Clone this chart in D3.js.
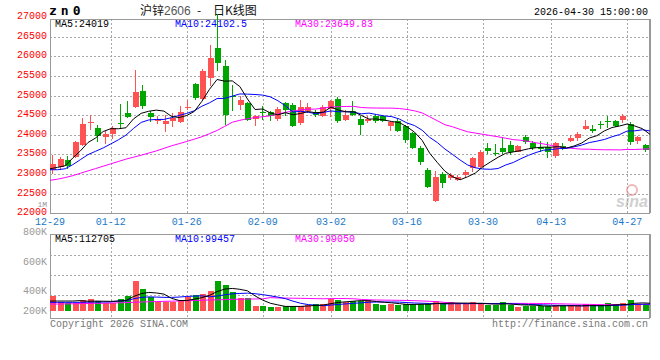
<!DOCTYPE html>
<html><head><meta charset="utf-8">
<script src="https://cdn.jsdelivr.net/npm/d3@7"></script>
<style>body{margin:0;background:#fff}svg{display:block}</style>
</head><body><svg id="c" width="660" height="360"></svg>
<script>
// ---------------- data ----------------
const dates = ["12-29","12-30","12-31","01-05","01-06","01-07","01-08","01-09",
 "01-12","01-13","01-14","01-15","01-16","01-19","01-20","01-21","01-22","01-23",
 "01-26","01-27","01-28","01-29","01-30","02-02","02-03","02-04","02-05","02-06",
 "02-09","02-10","02-11","02-12","02-13","02-24","02-25","02-26","02-27",
 "03-02","03-03","03-04","03-05","03-06","03-09","03-10","03-11","03-12","03-13",
 "03-16","03-17","03-18","03-19","03-20","03-23","03-24","03-25","03-26","03-27",
 "03-30","03-31","04-01","04-02","04-03","04-07","04-08","04-09","04-10",
 "04-13","04-14","04-15","04-16","04-17","04-20","04-21","04-22","04-23","04-24",
 "04-27","04-28","04-29","04-30"];
const xTickLabels = ["12-29","01-12","01-26","02-09","03-02","03-16","03-30","04-13","04-27"];
const opens = [23110,23180,23350,23426,23751,24290,24178,23939,24033,24290,
 24550,24720,25125,24560,24345,24280,24340,24335,24690,25290,
 24910,25450,26200,25743,24990,24750,24800,24400,24570,24570,
 24400,24800,24760,24290,24600,24590,24490,24650,24910,24370,
 24599,24411,24359,24470,24470,24214,24360,24214,24043,23676,
 23103,22308,22992,22906,22847,22975,23146,23188,23660,23530,
 23658,23744,23573,23932,23787,23701,23701,23462,23727,23847,
 23915,24154,24154,24280,24350,24359,24385,24274,23846,23744];
const highs = [23480,23430,23450,23850,24435,24510,24238,24100,24215,24790,
 24850,25660,25260,24600,24490,24510,24560,24735,24880,25330,
 25670,26290,27080,25914,25260,25000,24830,24510,24735,24600,
 24700,24830,24810,24890,24800,24620,24760,24900,24970,24640,
 24872,24470,24470,24530,24500,24360,24410,24257,24080,23727,
 23163,23077,23043,23017,22975,23103,23445,23616,23787,23760,
 23915,23830,23740,24000,23846,23846,23829,23829,23787,24000,
 24069,24385,24240,24360,24470,24380,24530,24325,23960,23760];
const lows = [23000,23110,23130,23400,23720,24130,23820,23770,23900,24140,
 24420,24690,24660,24320,24280,24060,24200,24290,24620,24880,
 24890,25240,25630,24247,24600,24640,24360,24220,24390,24340,
 24340,24490,24200,24260,24550,24460,24460,24460,24300,24340,
 24470,23999,24300,24300,24330,24086,24080,23787,23640,23231,
 22650,22300,22633,22846,22820,22889,23043,23150,23520,23470,
 23520,23488,23560,23761,23616,23556,23419,23419,23616,23829,
 23847,24129,24043,24150,24171,24200,24300,23744,23760,23560];
const closes = [23264,23390,23200,23820,24280,24330,23965,24025,24180,24270,
 24460,25100,24725,24450,24410,24340,24420,24580,24710,24930,
 25630,25950,25830,24495,24970,24900,24370,24490,24560,24480,
 24650,24640,24230,24720,24720,24500,24720,24870,24345,24495,
 24513,24240,24411,24359,24360,24325,24103,23872,23676,23317,
 22676,22932,22761,22975,22932,23060,23402,23556,23600,23520,
 23573,23573,23727,23829,23658,23641,23573,23787,23658,23915,
 24017,24214,24086,24270,24340,24214,24470,23829,23932,23616];
// moving-average values before enough candles are on screen
const ma5Head = [23135,23170,23213,23410];
const ma10Head = [23110,23110,23135,23240,23367,23495,23580,23666,23768];
const ma30Head = [22840,22870,22910,22960,23020,23080,23140,23200,23260,23320,
 23380,23430,23480,23535,23590,23655,23720,23775,23830,23890,
 23950,24030,24110,24215,24320,24370,24410,24440,24460];
const volumes = [220,135,120,120,160,175,145,110,110,175,
 220,450,325,200,135,135,135,160,200,235,
 250,300,450,385,285,185,185,70,70,50,
 60,70,70,70,85,100,100,175,160,135,
 145,145,160,100,85,100,85,100,100,100,
 100,145,100,125,100,100,125,100,85,85,
 125,85,60,70,70,70,70,85,70,70,
 70,100,70,70,110,100,115,160,100,85].map(v => v * 1000);
const volMa5Head = [145000,145000,145000,145000];
const volMa10Head = [125000,125000,125000,125000,125000,128000,130000,130000,132000];
const volMa30Head = [100,100,102,104,106,108,110,112,115,118,122,126,130,134,137,
 140,143,146,150,153,156,160,163,166,170,172,174,176,178].map(v => v * 1000);
const priceTicks = [22000,22500,23000,23500,24000,24500,25000,25500,26000,26500,27000];
const volTickValues = [200000,400000,600000,800000];
const volTickLabels = ["200K","400K","600K","800K"];
const priceLegend = ["MA5:24019","MA10:24102.5","MA30:23649.83"];
const volLegend = ["MA5:112705","MA10:99457","MA30:99050"];

// ---------------- drawing ----------------
const RED = "#ff5252", GREEN = "#00a600";
const MA_COLORS = ["#000000", "#0000ff", "#ff00ff"];
const MONO = "'Liberation Mono','DejaVu Sans Mono',monospace";
const svg = d3.select("#c");
const L = 50, R = 650;
const idx = d3.range(dates.length);
const band = d3.scaleBand().domain(idx).range([L, R]);
const gx = d3.scalePoint().domain(idx).range([L, R]);
const y = d3.scaleLinear().domain([22000, 27000]).range([213.3, 17.1]);
const volY = d3.scaleLinear().domain([0, 1140000]).range([310.7, 234.7]);
const volLabelY = d3.scaleLinear().domain(volTickValues).range([310, 290.7, 261.7, 231]);

function movingAvg(vals, n, head) {
  return vals.map((v, i) => i < n - 1 ? head[i] : d3.mean(vals.slice(i - n + 1, i + 1)));
}
const ma5 = movingAvg(closes, 5, ma5Head);
const ma10 = movingAvg(closes, 10, ma10Head);
const ma30 = movingAvg(closes, 30, ma30Head);
const vma5 = movingAvg(volumes, 5, volMa5Head);
const vma10 = movingAvg(volumes, 10, volMa10Head);
const vma30 = movingAvg(volumes, 30, volMa30Head);

const tickIdx = xTickLabels.map(l => dates.indexOf(l));
const grid = svg.append("g").attr("stroke", "#a8a8a8").attr("stroke-dasharray", "2,2").attr("shape-rendering", "crispEdges");
priceTicks.slice(1, -1).forEach(t => {
  grid.append("line").attr("x1", L).attr("x2", R).attr("y1", Math.round(y(t)) + 0.5).attr("y2", Math.round(y(t)) + 0.5);
});
tickIdx.slice(1).forEach(i => {
  const x = Math.round(gx(i)) + 0.5;
  grid.append("line").attr("x1", x).attr("x2", x).attr("y1", 19).attr("y2", 213);
  grid.append("line").attr("x1", x).attr("x2", x).attr("y1", 235).attr("y2", 318);
});
[255, 275, 295].forEach(v => {
  grid.append("line").attr("x1", L).attr("x2", R).attr("y1", v + 0.5).attr("y2", v + 0.5);
});

// frames
const frame = svg.append("g").attr("fill", "none").attr("stroke", "#999").attr("shape-rendering", "crispEdges");
frame.append("rect").attr("x", 50.5).attr("y", 19.5).attr("width", 599).attr("height", 193.5);
frame.append("rect").attr("x", 50.5).attr("y", 234.5).attr("width", 599).attr("height", 83.5);
frame.append("line").attr("x1", 649.5).attr("x2", 649.5).attr("y1", 19).attr("y2", 213).attr("stroke-width", 2);
frame.append("line").attr("x1", 649.5).attr("x2", 649.5).attr("y1", 234).attr("y2", 318).attr("stroke-width", 2);

// axis labels
const txt = svg.append("g").attr("font-family", MONO).attr("font-size", 10);
priceTicks.forEach(t => {
  txt.append("text").attr("x", 47).attr("y", y(t)).attr("dy", "0.2em").attr("text-anchor", "end")
    .attr("fill", "#ff0000").text(String(t));
});
txt.append("text").attr("x", 47).attr("y", 206.5).attr("text-anchor", "end")
  .attr("font-size", 8).attr("fill", "#999").text("1M");
xTickLabels.forEach((l, k) => {
  txt.append("text").attr("x", gx(tickIdx[k])).attr("y", 225).attr("text-anchor", "middle")
    .attr("fill", "#1a78c8").text(l);
});
volTickValues.forEach((v, k) => {
  txt.append("text").attr("x", 47).attr("y", volLabelY(v)).attr("dy", "0.35em").attr("text-anchor", "end")
    .attr("fill", "#999").text(volTickLabels[k]);
});
txt.append("text").attr("x", 50).attr("y", 327).attr("fill", "#777").text("Copyright 2026 SINA.COM");
txt.append("text").attr("x", 648).attr("y", 327).attr("text-anchor", "end").attr("fill", "#777").text("http://finance.sina.com.cn");

// header
svg.append("text").attr("x", 49).attr("y", 15).attr("font-family", "'DejaVu Sans Mono',monospace")
  .attr("font-weight", "bold").attr("font-size", 13).attr("letter-spacing", 4).attr("fill", "#000").text("zn0");
const title = svg.append("text").attr("y", 15).attr("font-size", 12).attr("font-family", "'Noto Sans CJK SC',sans-serif").attr("fill", "#111");
title.append("tspan").attr("x", 140).text("沪锌");
title.append("tspan").attr("x", 164).attr("fill", "#555").attr("font-family", "'Liberation Sans',sans-serif").text("2606");
title.append("tspan").attr("x", 197).text("-");
title.append("tspan").attr("x", 213).text("日K线图");
txt.append("text").attr("x", 648).attr("y", 15).attr("text-anchor", "end").attr("fill", "#000").text("2026-04-30 15:00:00");

// legends
[55, 175, 295].forEach((x, k) => {
  txt.append("text").attr("x", x).attr("y", 27).attr("fill", MA_COLORS[k]).text(priceLegend[k]);
  txt.append("text").attr("x", x).attr("y", 242).attr("fill", MA_COLORS[k]).text(volLegend[k]);
});

// watermark
const wm = svg.append("g").attr("opacity", 0.55);
wm.append("circle").attr("cx", 632).attr("cy", 190).attr("r", 5).attr("fill", "none").attr("stroke", "#e08080").attr("stroke-width", 2);
wm.append("text").attr("x", 616).attr("y", 207).attr("font-family", "'Liberation Sans',sans-serif").attr("font-style", "italic")
  .attr("font-weight", "bold").attr("font-size", 16).attr("fill", "#aaa").text("sina");

// candles and volume bars
const cg = svg.append("g").attr("shape-rendering", "crispEdges");
idx.forEach(i => {
  const up = closes[i] >= opens[i];
  const col = up ? RED : GREEN;
  const x0 = Math.round(band(i));
  cg.append("rect").attr("x", x0 + 2).attr("width", 1)
    .attr("y", y(highs[i])).attr("height", Math.max(1, y(lows[i]) - y(highs[i]))).attr("fill", col);
  const top = y(Math.max(opens[i], closes[i])), bot = y(Math.min(opens[i], closes[i]));
  cg.append("rect").attr("x", x0).attr("width", 6).attr("y", top).attr("height", Math.max(1, bot - top)).attr("fill", col);
  cg.append("rect").attr("x", x0).attr("width", 6).attr("y", volY(volumes[i]))
    .attr("height", volY(0) - volY(volumes[i])).attr("fill", col);
});

// MA lines
const line = d3.line().x((d, i) => gx(i)).y(d => y(d));
const vline = d3.line().x((d, i) => gx(i)).y(d => volY(d));
[ma30, ma10, ma5].forEach((s, k) => {
  svg.append("path").attr("d", line(s)).attr("fill", "none").attr("stroke", MA_COLORS[2 - k]).attr("stroke-width", 1);
});
[vma30, vma10, vma5].forEach((s, k) => {
  svg.append("path").attr("d", vline(s)).attr("fill", "none").attr("stroke", MA_COLORS[2 - k]).attr("stroke-width", 1);
});
</script></body></html>
